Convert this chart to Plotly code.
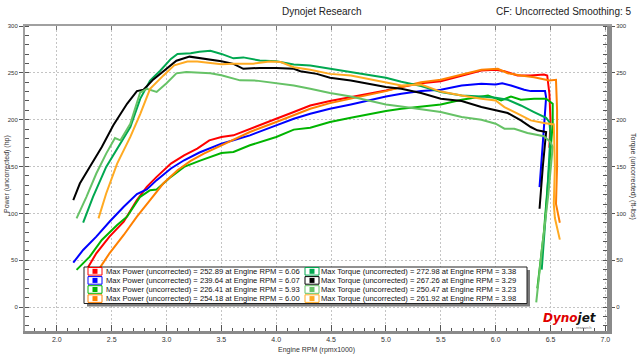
import plotly.graph_objects as go

# ---------------- data ----------------
red_rpm = [2.27, 2.36, 2.48, 2.61, 2.73, 2.82, 2.91, 3.04, 3.16, 3.28, 3.39, 3.5, 3.61, 3.76, 4.0, 4.16, 4.31, 4.49, 4.68, 4.83, 5.0, 5.14, 5.32, 5.5, 5.69, 5.87, 6.0, 6.08, 6.2, 6.32, 6.44, 6.47, 6.49, 6.5, 6.49]
red_hp = [39.7, 57.4, 75.2, 91.1, 114.2, 128.4, 139, 153.2, 162, 169.2, 178, 181.6, 183.3, 190.4, 201, 208.2, 215.2, 219.9, 224.1, 227, 231.2, 234.8, 239, 241.1, 247.2, 252.5, 253.2, 251.8, 247.2, 247.2, 248.2, 247.2, 227.7, 199.3, 170]

blue_rpm = [2.15, 2.24, 2.36, 2.48, 2.61, 2.73, 2.82, 2.91, 3.04, 3.16, 3.3, 3.5, 3.61, 3.76, 4.0, 4.16, 4.31, 4.49, 4.68, 4.83, 5.0, 5.14, 5.32, 5.5, 5.69, 5.87, 6.0, 6.06, 6.14, 6.26, 6.32, 6.45, 6.46, 6.43, 6.40]
blue_hp = [47.5, 61, 75.2, 91.1, 107.1, 120.6, 125.5, 135.5, 147.9, 156.7, 165, 174.5, 178, 183.3, 194, 201, 206.4, 211.7, 216.3, 220.6, 224.8, 227.7, 230.5, 231.9, 236.5, 238.3, 237.6, 239, 236.5, 231.9, 230.5, 230.5, 224, 175, 128]

green_rpm = [2.18, 2.30, 2.41, 2.55, 2.64, 2.76, 2.85, 2.91, 3.04, 3.16, 3.3, 3.5, 3.61, 3.76, 4.0, 4.16, 4.31, 4.49, 4.68, 4.83, 5.0, 5.14, 5.32, 5.5, 5.69, 5.93, 6.05, 6.14, 6.23, 6.35, 6.46, 6.52, 6.52, 6.49, 6.44, 6.38]
green_hp = [39.7, 53.9, 71.6, 87.6, 96.5, 117.7, 124.8, 125.5, 139, 149.6, 156, 164.5, 165.6, 172.7, 181.6, 189.4, 191.5, 197.5, 202.1, 205.7, 209.2, 211.7, 214.2, 216.3, 221.3, 225.9, 220.6, 224.8, 221.3, 222.3, 222.3, 217, 195.7, 150, 80, 20]

orange_rpm = [2.38, 2.48, 2.61, 2.73, 2.85, 2.97, 3.10, 3.22, 3.34, 3.5, 3.61, 3.76, 4.0, 4.16, 4.31, 4.49, 4.68, 4.83, 5.0, 5.14, 5.32, 5.5, 5.69, 5.87, 6.02, 6.11, 6.23, 6.35, 6.49, 6.55, 6.56, 6.56, 6.55, 6.585]
orange_hp = [39.7, 57.4, 77, 96.5, 114.2, 131.9, 146.1, 156, 163.8, 172.7, 178, 186.9, 197.5, 204.6, 211.7, 217.7, 222.3, 225.9, 230.5, 234.8, 240, 242.6, 248.2, 253.2, 254.3, 249.6, 247.2, 245.4, 241.8, 242.6, 210, 150, 110, 90]

teal_rpm = [2.24, 2.33, 2.45, 2.58, 2.67, 2.76, 2.85, 2.94, 3.04, 3.10, 3.22, 3.30, 3.40, 3.5, 3.61, 3.70, 3.85, 4.0, 4.16, 4.31, 4.49, 4.68, 4.83, 5.0, 5.14, 5.32, 5.5, 5.69, 5.87, 6.0, 6.11, 6.23, 6.35, 6.46, 6.49, 6.50, 6.47, 6.42]
teal_tq = [90.1, 117.7, 149.6, 174.5, 192.2, 222.3, 241.8, 252, 264.9, 270.2, 271, 272.5, 273.5, 270.2, 265.5, 266.5, 263.1, 262.4, 258.9, 257.8, 254.3, 250.7, 247.2, 244.7, 240.5, 236, 229.5, 225.9, 224.8, 223.4, 221.3, 215.2, 208.2, 202.1, 197.5, 185, 120, 40]

black_rpm = [2.15, 2.21, 2.30, 2.41, 2.515, 2.64, 2.73, 2.79, 2.88, 3.0, 3.09, 3.21, 3.30, 3.40, 3.5, 3.61, 3.70, 3.85, 4.0, 4.16, 4.22, 4.37, 4.49, 4.68, 4.83, 5.0, 5.14, 5.32, 5.5, 5.69, 5.87, 6.0, 6.11, 6.23, 6.32, 6.38, 6.46, 6.43, 6.40]
black_tq = [114.2, 131.9, 149.6, 170.9, 194, 217, 230.5, 231.9, 243, 254, 263, 267.3, 266, 264.2, 262.4, 259.6, 254.3, 255.3, 255.3, 254.3, 251.8, 248.9, 244.7, 241.8, 238.3, 234.8, 233, 228.4, 222.3, 219.9, 213.5, 210, 207.1, 199.3, 192.2, 188.7, 186.9, 150, 105]

lgreen_rpm = [2.18, 2.27, 2.36, 2.45, 2.53, 2.58, 2.67, 2.76, 2.82, 2.91, 3.0, 3.09, 3.18, 3.23, 3.30, 3.40, 3.5, 3.67, 3.82, 4.0, 4.16, 4.31, 4.49, 4.68, 4.83, 5.0, 5.14, 5.32, 5.5, 5.69, 5.87, 6.0, 6.08, 6.17, 6.29, 6.44, 6.50, 6.52, 6.48, 6.42, 6.37]
lgreen_tq = [94.7, 117.7, 142.6, 163.8, 180.5, 178, 195.7, 229, 233, 229.6, 239, 249.5, 251, 250.5, 250, 249.6, 247.4, 242, 241.7, 239, 236.5, 233, 228.4, 224.8, 220.6, 216.3, 214.2, 211.2, 208.2, 202.8, 200, 195.7, 190.4, 190.4, 185.8, 182.3, 176.2, 171, 120, 60, 5]

lorange_rpm = [2.38, 2.45, 2.55, 2.67, 2.76, 2.85, 2.97, 3.07, 3.19, 3.28, 3.40, 3.5, 3.61, 3.79, 3.94, 4.04, 4.16, 4.31, 4.49, 4.68, 4.83, 5.0, 5.14, 5.32, 5.5, 5.69, 5.87, 6.0, 6.08, 6.20, 6.32, 6.44, 6.53, 6.54, 6.53, 6.54, 6.585]
lorange_tq = [94.7, 121.3, 153.2, 181.6, 206, 233, 247, 258, 262, 262, 260.5, 259.2, 259.8, 259.8, 262.2, 261.5, 256, 253.2, 248.9, 247.2, 243.6, 240, 236.5, 237.5, 230, 225.9, 222.3, 220.6, 213.5, 206.4, 199.3, 196.5, 195, 150, 110, 95, 72]

power_colors = ["#FF0000", "#0000FF", "#00B400", "#FF8000"]
torque_colors = ["#00A850", "#000000", "#66C266", "#FFAA22"]
power_max = [252.89, 239.64, 226.41, 254.18]
power_max_rpm = [6.06, 6.07, 5.93, 6.00]
torque_max = [272.98, 267.26, 250.47, 261.92]
torque_max_rpm = [3.38, 3.29, 3.23, 3.98]

x_ticks = [2.0, 2.5, 3.0, 3.5, 4.0, 4.5, 5.0, 5.5, 6.0, 6.5, 7.0]
y_ticks = [0, 50, 100, 150, 200, 250, 300]

# ---------------- figure ----------------
W, H = 640, 360
L, R, T, B = 25, 607, 26, 331   # plot area in window pixels
FONT = "Liberation Sans, Arial, sans-serif"


def px(x):
    return (x - L) / (R - L)


def py(y):
    return (B - y) / (B - T)


fig = go.Figure()
power_runs = [(red_rpm, red_hp), (blue_rpm, blue_hp), (green_rpm, green_hp), (orange_rpm, orange_hp)]
torque_runs = [(teal_rpm, teal_tq), (black_rpm, black_tq), (lgreen_rpm, lgreen_tq), (lorange_rpm, lorange_tq)]

for (xs, ys), c in zip(torque_runs, torque_colors):
    fig.add_trace(go.Scatter(x=xs, y=ys, mode="lines", line=dict(color=c, width=2),
                             xaxis="x2", yaxis="y2", showlegend=False))
for (xs, ys), c in zip(power_runs, power_colors):
    fig.add_trace(go.Scatter(x=xs, y=ys, mode="lines", line=dict(color=c, width=2),
                             showlegend=False))

xr = [1.71, 7.015]
yr = [-25.5, 300]
grid = dict(gridcolor="#C4C4C4", griddash="2px,2px", gridwidth=1)

fig.update_layout(
    width=W, height=H,
    margin=dict(l=L, r=W - R, t=T, b=H - B, autoexpand=False),
    paper_bgcolor="white", plot_bgcolor="white",
    font=dict(family=FONT, color="#333333"),
    showlegend=False,
    xaxis=dict(range=xr, tickvals=x_ticks, ticktext=[f"{v:.1f}" for v in x_ticks],
               ticks="inside", ticklen=6, tickcolor="#555", tickfont=dict(size=7, color="#333"),
               showline=True, linecolor="#8A8A8A", linewidth=3, showgrid=True, **grid,
               minor=dict(dtick=0.1, tick0=2.0, ticks="inside", ticklen=3, tickcolor="#555", showgrid=False),
               zeroline=False),
    xaxis2=dict(range=xr, overlaying="x", side="top", tickvals=x_ticks, showticklabels=False,
                ticks="inside", ticklen=4, tickcolor="#777", showline=True, linecolor="#A0A0A0",
                linewidth=2, showgrid=False, zeroline=False, anchor="y2"),
    yaxis=dict(range=yr, tickvals=y_ticks, ticks="outside", ticklen=4, tickcolor="#555",
               tickfont=dict(size=6, color="#333"), showline=True, linecolor="#A0A0A0", linewidth=2,
               showgrid=True, **grid, zeroline=False,
               minor=dict(dtick=10, tick0=0, ticks="inside", ticklen=4, tickcolor="#555", showgrid=False)),
    yaxis2=dict(range=yr, overlaying="y", side="right", anchor="x2", tickvals=y_ticks, ticks="outside",
                ticklen=3, tickcolor="#555", tickfont=dict(size=6, color="#333"), showline=True,
                linecolor="#8A8A8A", linewidth=5, showgrid=False, zeroline=False,
                minor=dict(dtick=10, tick0=0, ticks="inside", ticklen=4, tickcolor="#555", showgrid=False)),
)

shapes = []
annotations = []


def text_at(text, x, y, size, color="#222", xanchor="center", yanchor="middle", angle=0, family=None):
    f = dict(size=size, color=color)
    if family:
        f["family"] = family
    annotations.append(dict(text=text, x=px(x), y=py(y), xref="paper", yref="paper",
                            xanchor=xanchor, yanchor=yanchor, textangle=angle,
                            showarrow=False, font=f))


# Titles
text_at("Dynojet Research", 321, 12, 10)
text_at("CF: Uncorrected Smoothing: 5", 633, 12, 10, xanchor="right")
text_at("Engine RPM (rpmx1000)", 316, 350, 7, color="#333")
text_at("Power (uncorrected) (hp)", 7, 174, 7, color="#333", angle=-90)
text_at("Torque (uncorrected) (ft-lbs)", 633, 176, 7, color="#333", angle=90)

# Legend box with shadow
shapes.append(dict(type="rect", xref="paper", yref="paper", x0=px(87), x1=px(530), y0=py(306.5), y1=py(270),
                   fillcolor="#7A7A7A", line=dict(width=0), layer="above"))
shapes.append(dict(type="rect", xref="paper", yref="paper", x0=px(84), x1=px(527), y0=py(303.5), y1=py(267),
                   fillcolor="white", line=dict(color="#222", width=1), layer="above"))

cols = [(88, 104, power_colors, "Max Power (uncorrected)", power_max, power_max_rpm),
        (305, 319, torque_colors, "Max Torque (uncorrected)", torque_max, torque_max_rpm)]
for bx, tx, colors, label, vals, rpms in cols:
    for i in range(4):
        yc = 271.3 + 9.1 * i
        shapes.append(dict(type="rect", xref="paper", yref="paper", x0=px(bx), x1=px(bx + 14),
                           y0=py(yc + 3.8), y1=py(yc - 3.8), fillcolor="white",
                           line=dict(color=colors[i], width=1), layer="above"))
        shapes.append(dict(type="rect", xref="paper", yref="paper", x0=px(bx + 4.5), x1=px(bx + 9.5),
                           y0=py(yc + 2.5), y1=py(yc - 2.5), fillcolor=colors[i],
                           line=dict(width=0), layer="above"))
        text_at(f"{label} = {vals[i]:.2f} at Engine RPM = {rpms[i]:.2f}", tx, yc, 7.6,
                color="#111", xanchor="left")

# Dynojet logo
text_at("<b><i><span style='color:#E00000'>Dyno</span><span style='color:#111'>jet</span></i></b>",
        570, 318, 12, family="DejaVu Sans, sans-serif")
text_at("research", 584, 327, 4, color="#666")

fig.update_layout(shapes=shapes, annotations=annotations)
# remove the browser's default 8px page margin so the figure sits at the window origin
fig.write_html("out.html", config={"displayModeBar": False},
               post_script="document.body.style.margin='0';")
